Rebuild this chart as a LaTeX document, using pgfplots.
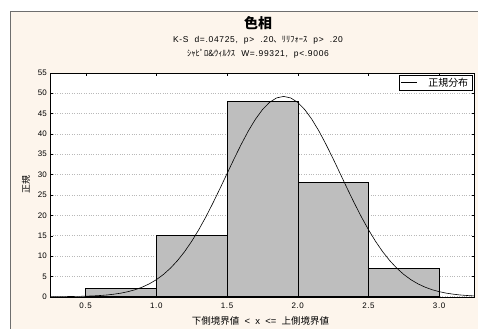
\documentclass[border=0pt]{standalone}
\usepackage{fontspec}
\setmainfont{Liberation Sans}
\newfontfamily\jp{Noto Sans CJK JP}
\newfontfamily\lat{Liberation Sans}[LetterSpace=8]
\usepackage{pgfplots}
\pgfplotsset{compat=1.18}
\definecolor{bgc}{RGB}{253,245,236}
\definecolor{barc}{RGB}{190,190,190}
\definecolor{framec}{RGB}{110,110,110}
\begin{document}
\begin{tikzpicture}[x=1bp,y=1bp]
\useasboundingbox (0,0) rectangle (478,328);
\fill[white] (0,0) rectangle (478,328);
\draw[fill=bgc, draw=framec] (10.5,316.5) rectangle (490,-10);
\node[font=\jp\bfseries\fontsize{14}{15}\selectfont] at (258,305) {色相};
\node[font=\fontsize{8.5}{9}\selectfont, inner sep=0pt] at (258,288) {{\lat K-S\ \ d=.04725,\ \ p>\ \ .20}{\jp 、ﾘﾘﾌｫｰｽ}{\lat\ \ p>\ \ .20}};
\node[font=\fontsize{8.5}{9}\selectfont, inner sep=0pt] at (258,274) {{\jp ｼｬﾋﾟﾛ\&ｳｨﾙｸｽ}{\lat\ \ W=.99321,\ \ p<.9006}};
\begin{axis}[
  at={(50.3bp,31.3bp)}, anchor=south west,
  scale only axis, width=424.2bp, height=223.9bp,
  xmin=0.25, xmax=3.25, ymin=0, ymax=55,
  xtick={0.5,1,1.5,2,2.5,3},
  xticklabels={0.5,1.0,1.5,2.0,2.5,3.0},
  ytick={0,5,...,55},
  tick align=inside, tick pos=both,
  major tick length=3bp,
  axis line style={black},
  tick style={black},
  axis background/.style={fill=white},
  ymajorgrids,
  major grid style={gray!55, dotted, line width=0.6pt},
  /pgf/number format/assume math mode=true,
  tick label style={font=\fontsize{8}{9}\selectfont},
  xticklabel style={yshift=-3bp, font=\lat\fontsize{8}{9}\selectfont},
  xlabel={{\jp 下側境界値}\ \ <\ \ x\ \ <=\ \ {\jp 上側境界値}},
  ylabel={\jp 正規},
  xlabel style={font=\fontsize{9.5}{10}\selectfont, at={(axis description cs:0.4955,-0.1085)}, anchor=center},
  ylabel style={font=\fontsize{9}{10}\selectfont, at={(axis description cs:-0.057,0.5)}, anchor=center},
  legend style={at={(rel axis cs:0.995,0.99)}, anchor=north east, draw=black, fill=white,
    font=\jp\fontsize{10}{11}\selectfont, inner xsep=2pt, inner ysep=0.5pt, column sep=9bp},
  legend cell align=left,
  legend image code/.code={\draw[#1] (4bp,0bp) -- (20bp,0bp);},
]
\addplot[ybar interval, fill=barc, draw=black, line width=0.5pt, forget plot]
  coordinates {(0.5,2) (1.0,15) (1.5,48) (2.0,28) (2.5,7) (3.0,7)};
\addplot[black, line width=0.6pt, mark=none] coordinates {
(0.25,0.01) (0.30,0.02) (0.35,0.03) (0.40,0.05) (0.45,0.08) (0.50,0.13)
(0.55,0.19) (0.60,0.29) (0.65,0.42) (0.70,0.62) (0.75,0.88) (0.80,1.24)
(0.85,1.72) (0.90,2.35) (0.95,3.16) (1.00,4.18) (1.05,5.46) (1.10,7.02)
(1.15,8.89) (1.20,11.08) (1.25,13.61) (1.30,16.46) (1.35,19.60) (1.40,23.00)
(1.45,26.57) (1.50,30.24) (1.55,33.89) (1.60,37.41) (1.65,40.68) (1.70,43.56)
(1.75,45.94) (1.80,47.73) (1.85,48.83) (1.90,49.20) (1.95,48.83) (2.00,47.73)
(2.05,45.94) (2.10,43.56) (2.15,40.68) (2.20,37.41) (2.25,33.89) (2.30,30.24)
(2.35,26.57) (2.40,23.00) (2.45,19.60) (2.50,16.46) (2.55,13.61) (2.60,11.08)
(2.65,8.89) (2.70,7.02) (2.75,5.46) (2.80,4.18) (2.85,3.16) (2.90,2.35)
(2.95,1.72) (3.00,1.24) (3.05,0.88) (3.10,0.62) (3.15,0.42) (3.20,0.29)
(3.25,0.19)};
\addlegendentry{正規分布}
\end{axis}
\end{tikzpicture}
\end{document}
